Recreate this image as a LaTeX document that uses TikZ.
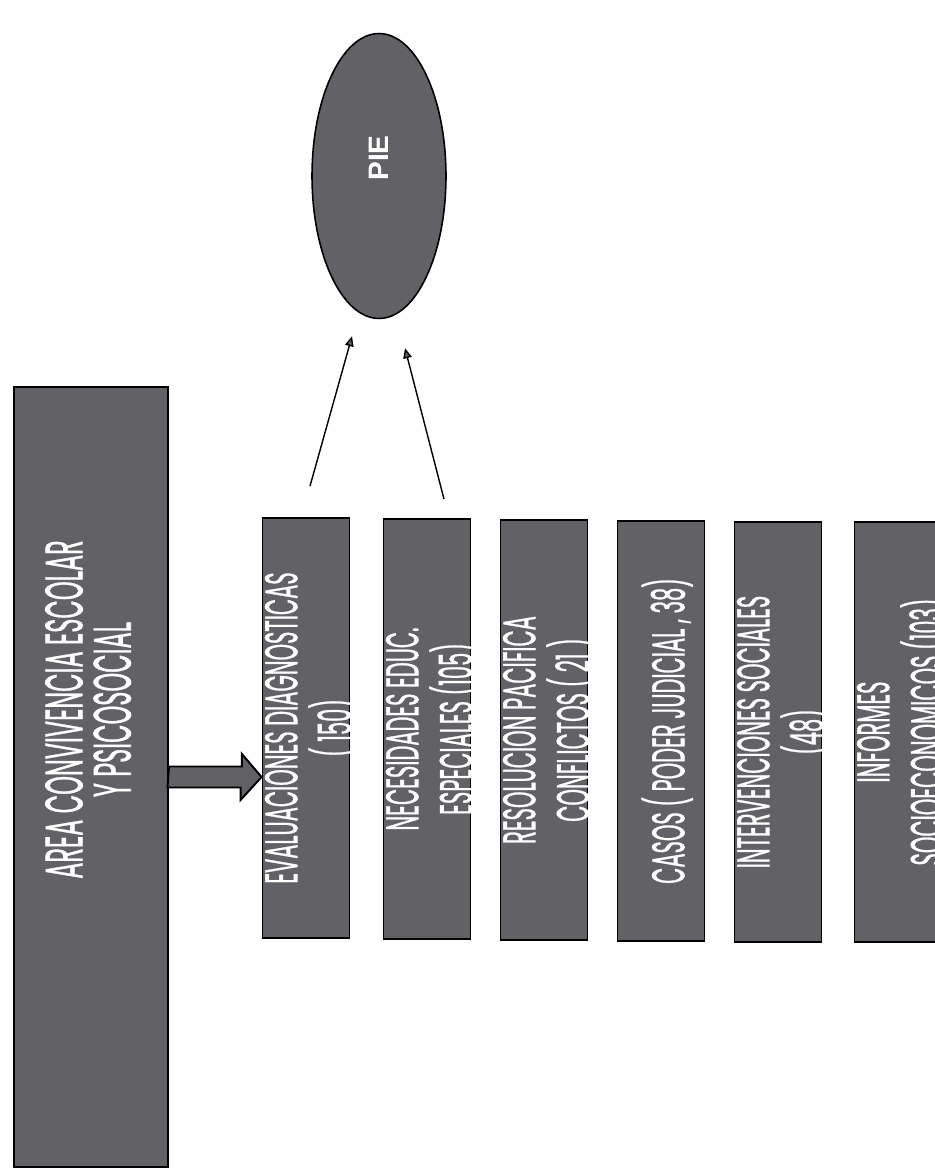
\documentclass[tikz,border=0pt]{standalone}
\usepackage{fontspec}
\setmainfont{Poppins}[FakeBold=1.2]
\newfontfamily\piefont{Liberation Sans}
\usetikzlibrary{arrows.meta,shapes.geometric}
\definecolor{boxgray}{RGB}{98,97,102}
\newcommand{\vtext}[1]{\makebox[0pt]{\hspace*{0.3cm}\rotatebox{90}{\scalebox{0.46}[1]{\begin{tabular}{@{}c@{}}#1\end{tabular}}}}}

\begin{document}
\begin{tikzpicture}[x=0.02cm, y=-0.02cm,
    box/.style={rectangle, draw=black, line width=1.1pt, fill=boxgray, text=white, inner sep=0pt,
        font=\fontsize{26}{21}\selectfont},
    sub/.style={box, minimum width=1.74cm, minimum height=8.4cm},
    fatarrow/.style={draw=black, line width=1.1pt, fill=boxgray, line join=miter},
    link/.style={line width=0.8pt, -{Triangle[length=0.2cm, width=0.17cm, fill=boxgray]}}]
    \fill[white] (0,0) rectangle (935,1172);
    \useasboundingbox (0,0) rectangle (935,1172);

    \node (area) at (91,777) [box, minimum width=3.08cm, minimum height=15.6cm]
        {\makebox[0pt]{\hspace*{0.1cm}\rotatebox{90}{\hspace*{2.7cm}\scalebox{0.454}[1]{\fontsize{30}{21}\selectfont
        \begin{tabular}{@{}c@{}}AREA CONVIVENCIA ESCOLAR\\Y PSICOSOCIAL\end{tabular}}}}};

    \node (eval) at (306,728) [sub] {\vtext{EVALUACIONES DIAGNOSTICAS\\( 150)}};
    \node (nec) at (427,729) [sub] {\vtext{NECESIDADES EDUC.\\ESPECIALES (105)}};
    \node (res) at (544,730) [sub] {\vtext{RESOLUCION PACIFICA\\CONFLICTOS ( 21 )}};
    \node (casos) at (661,731) [sub] {\vtext{CASOS ( PODER JUDICIAL , 38)}};
    \node (inter) at (778,732) [sub] {\vtext{INTERVENCIONES SOCIALES\\(48)}};
    \node (inf) at (898,732) [sub] {\vtext{INFORMES\\SOCIOECONOMICOS (103)}};

    \node (pie) at (379,176) [ellipse, draw=black, line width=0.9pt, fill=boxgray, text=white, inner sep=0pt,
        minimum width=2.68cm, minimum height=5.7cm]
        {\rotatebox{90}{\hspace*{0.72cm}\piefont\bfseries\fontsize{16}{16}\selectfont PIE}};

    \draw[fatarrow] (area.east) ++(0,-10.5) -- ++(73,0) -- ++(0,-12.5) -- (area.east -| eval.west)
        -- ++(-21,23) -- ++(0,-12.5) -- ++(-73,0) -- cycle;

    \draw[link] ([xshift=0.08cm, yshift=0.62cm]eval.north) -- ([xshift=-0.54cm, yshift=-0.34cm]pie.south);
    \draw[link] ([xshift=0.34cm, yshift=0.38cm]nec.north) -- ([xshift=0.52cm, yshift=-0.58cm]pie.south);
\end{tikzpicture}
\end{document}
